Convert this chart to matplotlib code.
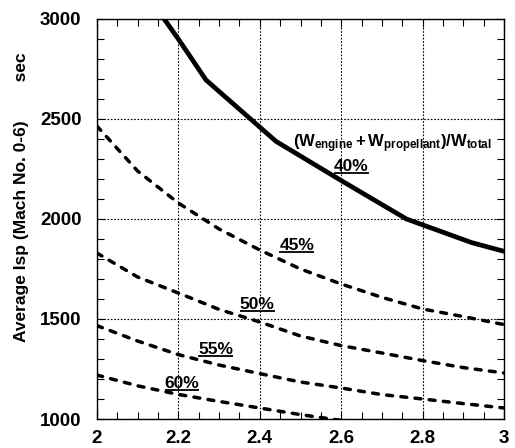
import numpy as np
import matplotlib
matplotlib.use("Agg")
import matplotlib.pyplot as plt
from matplotlib.ticker import MultipleLocator

plt.rcParams['font.family'] = ['Liberation Sans', 'DejaVu Sans']
plt.rcParams['font.weight'] = 'bold'
plt.rcParams['mathtext.fontset'] = 'custom'
plt.rcParams['mathtext.rm'] = 'Liberation Sans:bold'
plt.rcParams['mathtext.it'] = 'Liberation Sans:bold'
plt.rcParams['mathtext.bf'] = 'Liberation Sans:bold'

# thrust/weight ratio (x) vs average Isp (sec)
x_ratio = [2.0, 2.1, 2.2, 2.3, 2.4, 2.5, 2.6, 2.7, 2.8, 2.9, 3.0]
isp_45 = [2465, 2240, 2080, 1950, 1845, 1750, 1675, 1608, 1550, 1512, 1472]
isp_50 = [1830, 1710, 1630, 1548, 1485, 1415, 1367, 1330, 1292, 1257, 1230]
isp_55 = [1467, 1390, 1322, 1270, 1227, 1185, 1155, 1122, 1100, 1077, 1055]
x_60 = [2.0, 2.1, 2.2, 2.3, 2.4, 2.5, 2.6]
isp_60 = [1220, 1166, 1123, 1088, 1055, 1022, 993]
x_40 = [2.16, 2.2, 2.268, 2.44, 2.6, 2.76, 2.92, 3.0]
isp_40 = [3015, 2900, 2695, 2388, 2192, 2000, 1882, 1838]

pct_labels = ['40%', '45%', '50%', '55%', '60%']
pct_x = [2.625, 2.491, 2.394, 2.292, 2.209]
pct_y = [2260, 1865, 1570, 1350, 1180]

fig = plt.figure(figsize=(5.15, 4.48), dpi=100)
ax = fig.add_axes([0.188, 0.0647, 0.791, 0.893])

ax.plot(x_40, isp_40, color='black', lw=3.4, solid_joinstyle='miter')
for yy in (isp_45, isp_50, isp_55):
    ax.plot(x_ratio, yy, color='black', lw=2.5, dashes=(1.7, 2.4),
            dash_capstyle='round')
ax.plot(x_60, isp_60, color='black', lw=2.5, dashes=(1.7, 2.4),
        dash_capstyle='round')

ax.set_xlim(2, 3)
ax.set_ylim(1000, 3000)
ax.xaxis.set_major_locator(MultipleLocator(0.2))
ax.xaxis.set_minor_locator(MultipleLocator(0.05))
ax.yaxis.set_major_locator(MultipleLocator(500))
ax.yaxis.set_minor_locator(MultipleLocator(100))
ax.set_xticks([2, 2.2, 2.4, 2.6, 2.8, 3])
ax.set_xticklabels(['2', '2.2', '2.4', '2.6', '2.8', '3'])
ax.tick_params(which='both', direction='in', top=True, right=True,
               labelsize=13.5, width=0.8, color='black')
ax.tick_params(which='major', length=6, pad=8)
ax.tick_params(which='minor', length=5)
ax.tick_params(axis='y', pad=11)
ax.grid(True, which='major', color='black', lw=0.8, linestyle=(0, (1.5, 1.5)))

for side in ('top', 'bottom'):
    ax.spines[side].set_linestyle((0, (1.5, 1.0)))
for sp in ax.spines.values():
    sp.set_linewidth(1.0)

ax.set_ylabel('Average Isp (Mach No. 0-6)        sec', fontsize=12.5,
              fontweight='bold', y=0.555, labelpad=8)

ax.text(2.482, 2375, r'$(W_{engine}+W_{propellant})/W_{total}$',
        fontsize=12, ha='left', va='center')

texts = []
for lab, tx, ty in zip(pct_labels, pct_x, pct_y):
    texts.append(ax.text(tx, ty, lab, fontsize=12.5, ha='center', va='center'))

# underline the percentage labels using their rendered extents
fig.canvas.draw()
inv = ax.transData.inverted()
for t in texts:
    bb = t.get_window_extent()
    (x0, y0), (x1, _) = inv.transform([(bb.x0, bb.y0 + 1.0), (bb.x1, bb.y0)])
    ax.plot([x0, x1], [y0, y0], color='black', lw=1.3, solid_capstyle='butt')

fig.savefig('out.png', dpi=100)
